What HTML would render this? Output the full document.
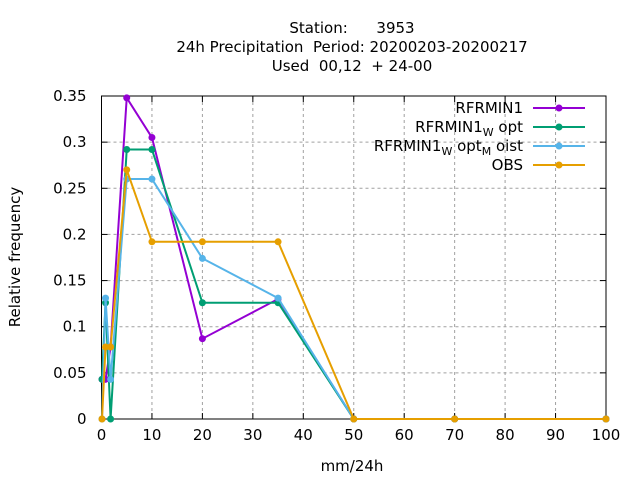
<!DOCTYPE html>
<html><head><meta charset="utf-8"><style>body{margin:0;background:#fff}svg{font-family:"DejaVu Sans",sans-serif}text{white-space:pre}</style></head>
<body>
<svg id="c" width="640" height="480">
<text x="352" y="33" font-size="15" text-anchor="middle">Station:      3953</text>
<text x="352" y="52" font-size="15" text-anchor="middle">24h Precipitation  Period: 20200203-20200217</text>
<text x="352" y="71" font-size="15" text-anchor="middle">Used  00,12  + 24-00</text>
<text x="20" y="257" font-size="15" text-anchor="middle" transform="rotate(-90 20 257)">Relative frequency</text>
<text x="352" y="471" font-size="15" text-anchor="middle">mm/24h</text>
<g id="grid"></g><g id="series"></g><g id="legend"></g>
</svg>
<script>
const xTicks=[0,10,20,30,40,50,60,70,80,90,100];
const yTicks=[0,0.05,0.1,0.15,0.2,0.25,0.3,0.35];
const yTickLabels=["0","0.05","0.1","0.15","0.2","0.25","0.3","0.35"];
const xVals=[0.1,0.8,1.8,5,10,20,35,50,70,100];
const rfrmin1=[0.043,0.043,0.078,0.348,0.305,0.087,0.13,0,0,0];
const wopt=[0.043,0.126,0,0.292,0.292,0.126,0.126,0,0,0];
const wmoist=[0,0.131,0.043,0.26,0.26,0.174,0.131,0,0,0];
const obs=[0,0.078,0.078,0.27,0.192,0.192,0.192,0,0,0];
const names=["RFRMIN1","RFRMIN1_W opt","RFRMIN1_W opt_M oist","OBS"];
const L=101.5,R=606,T=96,B=419;
const sx=v=>L+(R-L)*v/100, sy=v=>B-(B-T)*v/0.35;
const NS="http://www.w3.org/2000/svg";
function mk(t,a,p){const e=document.createElementNS(NS,t);for(const k in a)e.setAttribute(k,a[k]);p.appendChild(e);return e;}
const g=document.getElementById('grid');
xTicks.forEach(v=>{const x=sx(v);
 const l=mk('line',{x1:x,x2:x,y1:T,y2:B,stroke:'#a0a0a0','stroke-dasharray':'3,3'},g);
 
 const t=mk('text',{x:x,y:B+21,'font-size':15,'text-anchor':'middle'},g);t.textContent=v;
 
 mk('line',{x1:x,x2:x,y1:B,y2:B-6,stroke:'#000'},g);mk('line',{x1:x,x2:x,y1:T,y2:T+6,stroke:'#000'},g);});
yTicks.forEach((v,i)=>{const y=sy(v);
 const l=mk('line',{x1:L,x2:R,y1:y,y2:y,stroke:'#a0a0a0','stroke-dasharray':'3,3'},g);
 
 const t=mk('text',{x:L-15,y:y+5,'font-size':15,'text-anchor':'end'},g);t.textContent=yTickLabels[i];
 
 mk('line',{x1:L,x2:L+6,y1:y,y2:y,stroke:'#000'},g);mk('line',{x1:R,x2:R-6,y1:y,y2:y,stroke:'#000'},g);});
const fr=mk('rect',{x:L,y:T,width:R-L,height:B-T,fill:'none',stroke:'#000'},g);

const S=document.getElementById('series'),Lg=document.getElementById('legend');
const cols=['#9400d3','#009e73','#56b4e9','#e69f00'];
[rfrmin1,wopt,wmoist,obs].forEach((d,i)=>{
 const pts=d.map((v,j)=>sx(xVals[j])+','+sy(v)).join(' ');
 const pl=mk('polyline',{points:pts,fill:'none',stroke:cols[i],'stroke-width':2},S);
 
 d.forEach((v,j)=>{const c=mk('circle',{cx:sx(xVals[j]),cy:sy(v),r:3.5,fill:cols[i]},S);
  });
 const y=108+i*19;
 const t=mk('text',{x:523,y:y+5,'font-size':15,'text-anchor':'end'},Lg);
 const p=names[i].split(/_/);
 p.forEach((s,k)=>{const ts=mk('tspan',{},t);
  if(k>0){ts.setAttribute('font-size','11');ts.setAttribute('dy','4');ts.textContent=s[0];const r=mk('tspan',{'font-size':15,dy:-4},t);r.textContent=s.slice(1);}
  else ts.textContent=s;});
 
 const ll=mk('line',{x1:533,x2:585,y1:y,y2:y,stroke:cols[i],'stroke-width':2},Lg);
 
 mk('circle',{cx:559,cy:y,r:3.5,fill:cols[i]},Lg);
});
</script>
</body></html>
